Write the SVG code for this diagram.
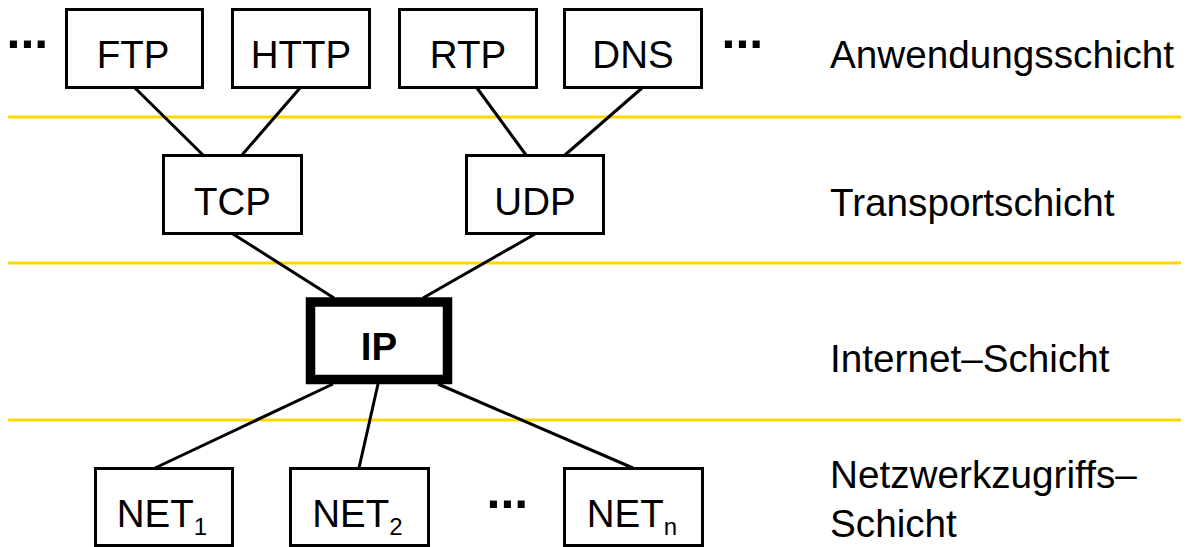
<svg xmlns="http://www.w3.org/2000/svg" width="1188" height="547" viewBox="0 0 1188 547">
<style>
text{font-family:"Liberation Sans",Arial,sans-serif;fill:#000}
.lbl{font-size:38.5px;text-anchor:middle}
.layer{font-size:38.7px}
.dots{font-size:50px;font-weight:bold}
.box{fill:#fff;stroke:#000;stroke-width:3}
.sep{stroke:#ffd700;stroke-width:3}
.conn line{stroke:#000;stroke-width:3}
.sub{font-size:24px}
</style>
<rect width="1188" height="547" fill="#fff"/>
<g id="separators">
<line class="sep" x1="8" y1="117" x2="1181" y2="117"/>
<line class="sep" x1="8" y1="263" x2="1181" y2="263"/>
<line class="sep" x1="8" y1="420" x2="1181" y2="420"/>
</g>
<g class="conn" id="connectors">
<line x1="135" y1="88" x2="203" y2="155"/>
<line x1="300" y1="88" x2="242" y2="155"/>
<line x1="477" y1="88" x2="526" y2="155"/>
<line x1="642" y1="88" x2="565" y2="155"/>
<line x1="233" y1="234" x2="334" y2="298"/>
<line x1="535" y1="234" x2="423" y2="298"/>
<line x1="333" y1="384" x2="155" y2="468"/>
<line x1="378" y1="384" x2="359" y2="468"/>
<line x1="438" y1="384" x2="633" y2="468"/>
</g>
<g id="ftp"><rect class="box" x="66.5" y="9.5" width="136" height="78"/><text class="lbl" x="133" y="68">FTP</text></g>
<g id="http"><rect class="box" x="232.5" y="9.5" width="137" height="78"/><text class="lbl" x="301" y="68">HTTP</text></g>
<g id="rtp"><rect class="box" x="399.5" y="9.5" width="137" height="78"/><text class="lbl" x="468" y="68">RTP</text></g>
<g id="dns"><rect class="box" x="564.5" y="9.5" width="137" height="78"/><text class="lbl" x="633" y="68">DNS</text></g>
<g id="tcp"><rect class="box" x="163.5" y="155.5" width="138" height="78"/><text class="lbl" x="232.5" y="215">TCP</text></g>
<g id="udp"><rect class="box" x="466.5" y="155.5" width="137" height="78"/><text class="lbl" x="535" y="215">UDP</text></g>
<g id="ip"><rect x="310.5" y="302" width="137" height="77.5" fill="#fff" stroke="#000" stroke-width="9.5"/><text class="lbl" x="379" y="360" font-weight="bold">IP</text></g>
<g id="net1"><rect class="box" x="95.5" y="468.5" width="137" height="77"/><text class="lbl" x="162" y="527">NET<tspan class="sub" dy="8">1</tspan></text></g>
<g id="net2"><rect class="box" x="290.5" y="468.5" width="138" height="77"/><text class="lbl" x="357.5" y="527">NET<tspan class="sub" dy="8">2</tspan></text></g>
<g id="netn"><rect class="box" x="564.5" y="468.5" width="138" height="77"/><text class="lbl" x="632" y="527">NET<tspan class="sub" dy="8">n</tspan></text></g>
<g id="ellipses">
<text class="dots" x="6.5" y="48">...</text>
<text class="dots" x="721.5" y="48">...</text>
<text class="dots" x="486.5" y="508">...</text>
</g>
<g id="layers">
<text class="layer" x="830" y="68">Anwendungsschicht</text>
<text class="layer" x="830" y="216">Transportschicht</text>
<text class="layer" x="830" y="372">Internet–Schicht</text>
<text class="layer" x="830" y="488">Netzwerkzugriffs–</text>
<text class="layer" x="830" y="537">Schicht</text>
</g>
</svg>
